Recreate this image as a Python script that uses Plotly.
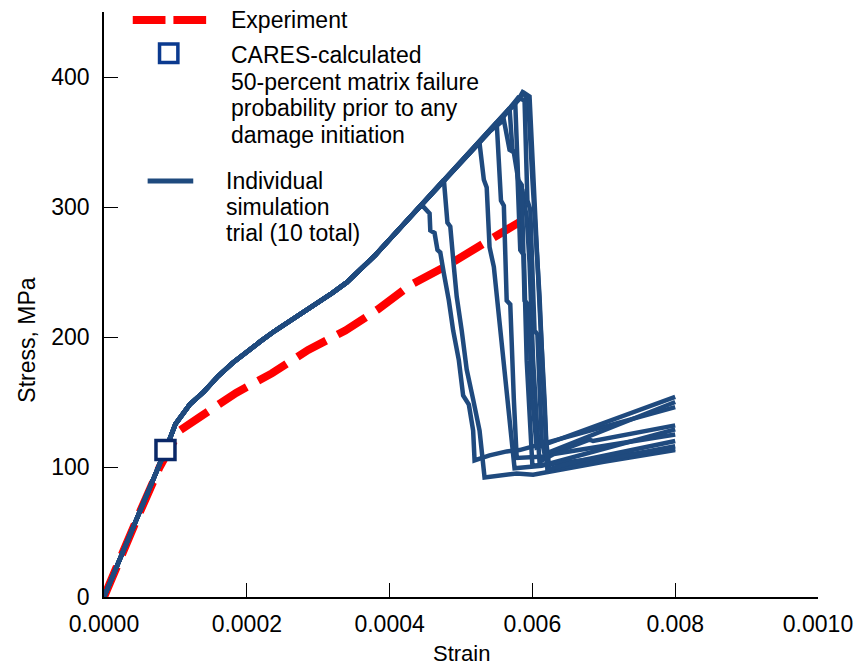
import plotly.graph_objects as go

# ---------------- data ----------------
# Experiment (dashed red)
exp_strain = [0, 0.000025, 0.00005, 0.000078, 0.000094, 0.000106, 0.000133, 0.000185,
              0.000235, 0.000286, 0.000338, 0.000383, 0.000429, 0.000481, 0.000532, 0.000596]
exp_stress = [0, 34, 65, 100, 118, 128, 138, 157, 172, 190, 205, 221, 240, 255, 272, 293]

# Shared loading path of the simulation trials (they coincide until each departs)
env_strain = [0, 0.00002, 0.00004, 0.00006, 0.00008, 0.0000861, 0.0001, 0.00012, 0.00014,
              0.00016, 0.00018, 0.0002, 0.00022, 0.00024, 0.00026, 0.00028, 0.0003, 0.00032,
              0.00034, 0.00036, 0.00038, 0.0004, 0.00042, 0.00044, 0.00046, 0.00048, 0.0005,
              0.00052, 0.00054, 0.00056, 0.00058, 0.000588]
env_stress = [0, 26, 52, 79, 105, 113, 133, 148, 158, 170, 180, 189, 197, 205, 212, 220, 227,
              234, 242, 252, 263, 275, 287, 299, 311, 323, 335, 346, 358, 370, 382, 388]

# Post-departure part of each of the 10 trials (departure point first)
trial_post_strain = [
    [0.000446, 0.000456, 0.000457, 0.000463, 0.000467, 0.000471, 0.000476, 0.000483, 0.000489,
     0.000497, 0.000503, 0.000511, 0.000517, 0.000519, 0.00054, 0.000564, 0.000582, 0.0008],
    [0.000476, 0.000481, 0.000485, 0.00049, 0.000494, 0.000501, 0.000508, 0.000517, 0.000526,
     0.000533, 0.000578, 0.000601, 0.0007, 0.0008],
    [0.000526, 0.000532, 0.000536, 0.00054, 0.000546, 0.000554, 0.000561, 0.000568, 0.000575,
     0.000613, 0.0007, 0.0008],
    [0.00055, 0.000556, 0.00056, 0.000564, 0.000569, 0.000574, 0.000578, 0.000617, 0.00068,
     0.000685, 0.0008],
    [0.00056, 0.000568, 0.000574, 0.000582, 0.000586, 0.000592, 0.000596, 0.000601, 0.000606,
     0.00061, 0.00063, 0.0008],
    [0.000568, 0.000572, 0.000578, 0.000583, 0.000588, 0.000592, 0.000596, 0.0006, 0.00064,
     0.0008],
    [0.000576, 0.00058, 0.000585, 0.000589, 0.000594, 0.0006, 0.000606, 0.0008],
    [0.000586, 0.000594, 0.0006, 0.000606, 0.00061, 0.000615, 0.000619, 0.000624, 0.0008],
    [0.00058, 0.000589, 0.000593, 0.000597, 0.000603, 0.000607, 0.000613, 0.000617, 0.0008],
    [0.000588, 0.000596, 0.000606, 0.000611, 0.000617, 0.000621, 0.00066, 0.0008],
]
trial_post_stress = [
    [301, 295, 282, 280, 267, 265, 249, 228, 205, 182, 155, 148, 128, 105, 109, 112, 113, 146],
    [321, 288, 285, 254, 231, 205, 175, 152, 128, 92, 95, 94, 104, 113],
    [349, 321, 315, 269, 254, 213, 175, 136, 99, 101, 114, 129],
    [365, 305, 301, 228, 225, 152, 107, 108, 121, 120, 132],
    [367, 344, 342, 315, 313, 292, 257, 182, 136, 104, 110, 125],
    [376, 344, 340, 267, 263, 182, 136, 101, 103, 114],
    [380, 321, 317, 228, 225, 152, 115, 154],
    [388, 383, 321, 269, 231, 167, 121, 98, 116],
    [384, 382, 305, 298, 205, 202, 121, 110, 150],
    [388, 385, 259, 213, 152, 98, 104, 120],
]

# CARES-calculated 50-percent matrix failure probability point
cares_strain = [0.0000861]
cares_stress = [113]

x_tickvals = [0, 0.0002, 0.0004, 0.0006, 0.0008, 0.0010]
x_ticktext = ["0.0000", "0.0002", "0.0004", "0.006", "0.008", "0.0010"]
y_tickvals = [0, 100, 200, 300, 400]
y_ticktext = ["0", "100", "200", "300", "400"]

# ---------------- styling ----------------
FONT = "Liberation Sans, Arial, sans-serif"
FS = 23
BLUE = "#1f4a7e"
RED = "#ff0000"
NAVY = "#0a2868"
W, H = 865, 668
ML, MR, MT, MB = 104, 41, 12, 71
PW, PH = W - ML - MR, H - MT - MB


def px(xp):
    return (xp - ML) / PW


def py(yp):
    return (MT + PH - yp) / PH


fig = go.Figure()

fig.add_trace(go.Scatter(
    x=exp_strain, y=exp_stress, mode="lines",
    line=dict(color=RED, width=8, dash="33px,13px"),
    showlegend=False, hoverinfo="skip"))

for ps, pv in zip(trial_post_strain, trial_post_stress):
    dep = ps[0]
    xs = [s for s in env_strain if s < dep] + ps
    ys = [v for s, v in zip(env_strain, env_stress) if s < dep] + pv
    fig.add_trace(go.Scatter(
        x=xs, y=ys, mode="lines",
        line=dict(color=BLUE, width=4.5),
        showlegend=False, hoverinfo="skip"))

fig.add_trace(go.Scatter(
    x=cares_strain, y=cares_stress, mode="markers",
    marker=dict(symbol="square", size=19, color="white",
                line=dict(color=NAVY, width=3.5)),
    showlegend=False, hoverinfo="skip"))

# ---------------- hand-drawn legend ----------------
shapes = [
    dict(type="line", xref="paper", yref="paper", x0=px(133), x1=px(166), y0=py(20), y1=py(20),
         line=dict(color=RED, width=8)),
    dict(type="line", xref="paper", yref="paper", x0=px(174), x1=px(207), y0=py(20), y1=py(20),
         line=dict(color=RED, width=8)),
    dict(type="rect", xref="paper", yref="paper", x0=px(160), x1=px(178.5), y0=py(44), y1=py(62.5),
         line=dict(color="#0b3a8f", width=3.5), fillcolor="white"),
    dict(type="line", xref="paper", yref="paper", x0=px(148), x1=px(194), y0=py(181), y1=py(181),
         line=dict(color=BLUE, width=5)),
]

legend_lines = [
    ("Experiment", 230, 20),
    ("CARES-calculated", 230, 55),
    ("50-percent matrix failure", 230, 82),
    ("probability prior to any", 230, 108),
    ("damage initiation", 230, 135),
    ("Individual", 225, 181),
    ("simulation", 225, 207),
    ("trial (10 total)", 225, 233),
]
annotations = [
    dict(text=t, x=px(xp), y=py(yp), xref="paper", yref="paper", xanchor="left",
         yanchor="middle", showarrow=False, font=dict(family=FONT, size=FS, color="black"))
    for t, xp, yp in legend_lines
]
annotations.append(dict(text="Stress, MPa", x=px(26), y=py(340), xref="paper", yref="paper",
                        xanchor="center", yanchor="middle", textangle=-90, showarrow=False,
                        font=dict(family=FONT, size=23, color="black")))
annotations.append(dict(text="Strain", x=0.5, y=py(667), xref="paper", yref="paper",
                        xanchor="center", yanchor="bottom", showarrow=False, borderpad=0,
                        font=dict(family=FONT, size=22, color="black")))

axis_common = dict(showgrid=False, zeroline=False, showline=True, linecolor="black",
                   linewidth=1.5, ticks="inside", ticklen=14, tickwidth=1.3,
                   tickcolor="black", tickfont=dict(family=FONT, size=FS, color="black"))

fig.update_layout(
    width=W, height=H,
    margin=dict(l=ML, r=MR, t=MT, b=MB),
    paper_bgcolor="white", plot_bgcolor="white",
    showlegend=False,
    xaxis=dict(range=[0, 0.001], tickvals=x_tickvals, ticktext=x_ticktext,
               ticklabelstandoff=6, **axis_common),
    yaxis=dict(range=[0, 450], tickvals=y_tickvals, ticktext=y_ticktext,
               ticklabelstandoff=8, **axis_common),
    shapes=shapes,
    annotations=annotations,
)

fig.write_html("out.html")
